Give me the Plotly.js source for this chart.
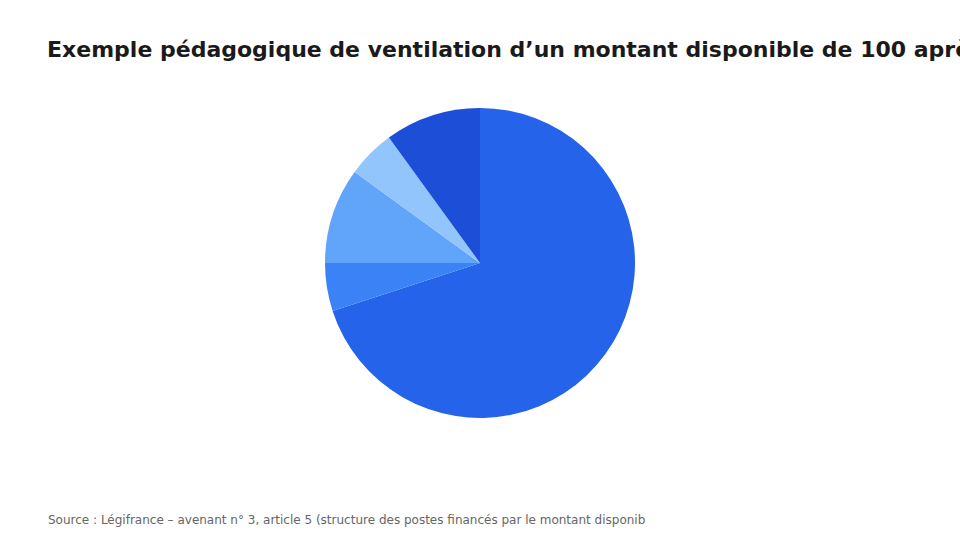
<!DOCTYPE html>
<html>
<head>
<meta charset="utf-8">
<script src="https://cdn.plot.ly/plotly-3.0.1.min.js"></script>
<style>
  html, body { margin: 0; padding: 0; background: #ffffff; }
  #graphique { width: 960px; height: 540px; }
</style>
</head>
<body>
<div id="graphique"></div>
<script>
// Répartition pédagogique du montant disponible (base 100)

let postes = [
  "Revalorisation des salaires",
  "Prime d'ancienneté",
  "Formation professionnelle",
  "Prévoyance",
  "Autres mesures"
];
let montants = [70, 5, 10, 5, 10];
let couleurs = ["#2563eb", "#3b82f6", "#60a5fa", "#93c5fd", "#1d4ed8"];

let titre = "Exemple pédagogique de ventilation d’un montant disponible de 100 après accord";
let source = "Source : Légifrance – avenant n° 3, article 5 (structure des postes financés par le montant disponib";

let camembert = {
  type: "pie",
  labels: postes,
  values: montants,
  sort: false,
  direction: "clockwise",
  rotation: 0,
  textinfo: "none",
  hoverinfo: "label+value",
  marker: { colors: couleurs, line: { width: 0 } },
  showlegend: false
};

let layout = {
  width: 960,
  height: 540,
  paper_bgcolor: "#ffffff",
  plot_bgcolor: "#ffffff",
  margin: { l: 48, r: 48, t: 108, b: 122 },
  title: {
    text: "<b>" + titre + "</b>",
    x: 0.049, xref: "container", xanchor: "left",
    y: 0.909, yref: "container", yanchor: "middle",
    font: { family: "DejaVu Sans, sans-serif", size: 22, color: "#1a1a1a" }
  },
  annotations: [{
    text: source,
    xref: "paper", yref: "paper",
    x: -0.0025, y: -0.329,
    xanchor: "left", yanchor: "middle",
    showarrow: false,
    font: { family: "DejaVu Sans, sans-serif", size: 12, color: "#666666" }
  }]
};

let config = { displayModeBar: false, responsive: false };

Plotly.newPlot("graphique", [camembert], layout, config);
</script>
</body>
</html>
